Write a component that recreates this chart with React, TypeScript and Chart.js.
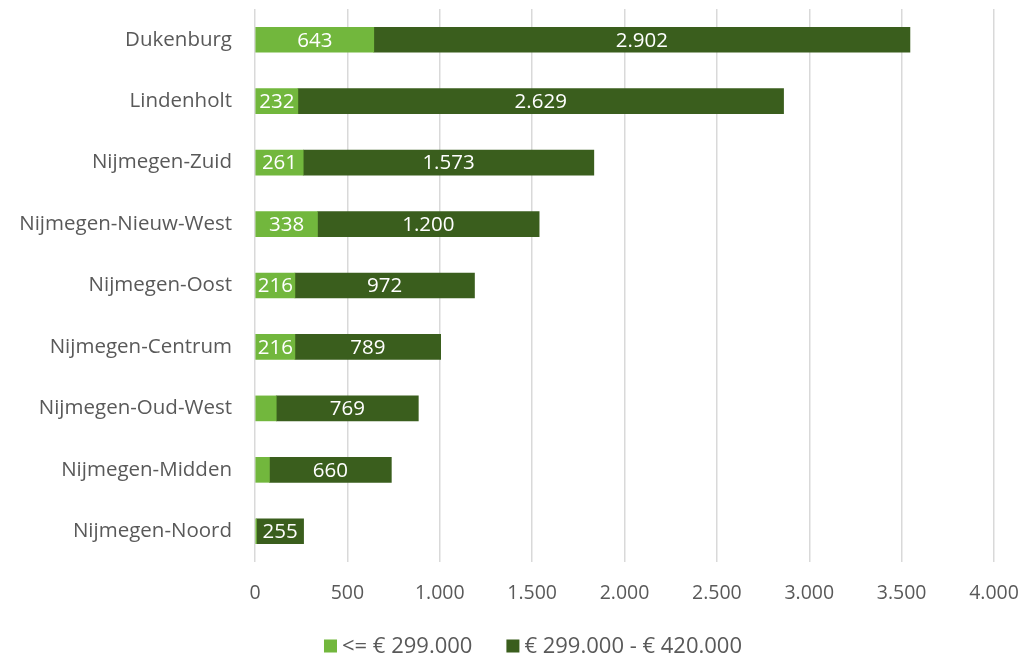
import React, { useEffect, useRef } from "react";
import { Chart, registerables } from "chart.js";

Chart.register(...registerables);

const categories = [
  "Dukenburg",
  "Lindenholt",
  "Nijmegen-Zuid",
  "Nijmegen-Nieuw-West",
  "Nijmegen-Oost",
  "Nijmegen-Centrum",
  "Nijmegen-Oud-West",
  "Nijmegen-Midden",
  "Nijmegen-Noord",
];
const lowValues = [643, 232, 261, 338, 216, 216, 115, 78, 8];
const midValues = [2902, 2629, 1573, 1200, 972, 789, 769, 660, 255];
const seriesNames = ["<= € 299.000", "€ 299.000 - € 420.000"];
const xTicks = [0, 500, 1000, 1500, 2000, 2500, 3000, 3500, 4000];
const shownLowLabels = [true, true, true, true, true, true, false, false, false];

const FONT = "'Open Sans', sans-serif";
const fmt = (v: number) => String(v).replace(/\B(?=(\d{3})+(?!\d))/g, ".");

const labelPlugin = {
  id: "barLabels",
  afterDatasetsDraw(chart: any) {
    const ctx = chart.ctx;
    ctx.save();
    ctx.fillStyle = "#ffffff";
    ctx.font = `20.5px ${FONT}`;
    ctx.textAlign = "center";
    ctx.textBaseline = "middle";
    chart.data.datasets.forEach((ds: any, di: number) => {
      const meta = chart.getDatasetMeta(di);
      meta.data.forEach((bar: any, i: number) => {
        if (di === 0 && !shownLowLabels[i]) return;
        const x = (bar.x + bar.base) / 2;
        ctx.fillText(fmt(ds.data[i]), x, bar.y + 1);
      });
    });
    ctx.restore();
  },
};

const legendPlugin = {
  id: "customLegend",
  afterDraw(chart: any) {
    const ctx = chart.ctx;
    ctx.save();
    ctx.font = `22px ${FONT}`;
    ctx.textBaseline = "middle";
    ctx.textAlign = "left";
    const box = 13;
    const gapBoxText = 5;
    const gapItems = 34;
    const items = chart.data.datasets.map((ds: any) => ({
      text: ds.label,
      color: ds.backgroundColor,
      w: box + gapBoxText + ctx.measureText(ds.label).width,
    }));
    const total = items.reduce((a: number, it: any) => a + it.w, 0) + gapItems * (items.length - 1);
    let x = 533 - total / 2;
    const y = 646;
    items.forEach((it: any) => {
      ctx.fillStyle = it.color;
      ctx.fillRect(x, y - box / 2, box, box);
      ctx.fillStyle = "#595959";
      ctx.fillText(it.text, x + box + gapBoxText, y + 1);
      x += it.w + gapItems;
    });
    ctx.restore();
  },
};

export default function App() {
  const ref = useRef<HTMLCanvasElement>(null);
  useEffect(() => {
    const chart = new Chart(ref.current!, {
      type: "bar",
      data: {
        labels: categories,
        datasets: [
          {
            label: seriesNames[0],
            data: lowValues,
            backgroundColor: "#72B73D",
            borderColor: "#72B73D",
            barThickness: 25,
          },
          {
            label: seriesNames[1],
            data: midValues,
            backgroundColor: "#3A5E1D",
            borderColor: "#3A5E1D",
            barThickness: 25,
          },
        ],
      },
      options: {
        indexAxis: "y",
        animation: false,
        responsive: true,
        maintainAspectRatio: false,
        layout: { padding: { left: 0, right: 33, top: 9, bottom: 48 } },
        scales: {
          x: {
            stacked: true,
            min: 0,
            max: 4000,
            afterBuildTicks: (s: any) => {
              s.ticks = xTicks.map((v) => ({ value: v }));
            },
            afterFit: (s: any) => {
              s.height = 47;
              s.paddingLeft = 0;
              s.paddingRight = 0;
            },
            ticks: {
              color: "#595959",
              font: { family: FONT, size: 19.5 },
              padding: 20,
              maxRotation: 0,
              callback: (v: any) => fmt(Number(v)),
            },
            grid: { color: "#D9D9D9", lineWidth: 1.5, drawTicks: false },
            border: { display: false },
          },
          y: {
            stacked: true,
            afterFit: (s: any) => {
              s.width = 255;
              s.paddingTop = 0;
              s.paddingBottom = 0;
            },
            ticks: {
              color: "#595959",
              font: { family: FONT, size: 20.5 },
              padding: 23,
            },
            grid: { display: false, drawTicks: false },
            border: { display: false },
          },
        },
        plugins: {
          legend: { display: false },
          tooltip: { enabled: false },
        },
      },
      plugins: [labelPlugin, legendPlugin],
    });
    return () => chart.destroy();
  }, []);
  return (
    <div style={{ position: "fixed", left: 0, top: 0, width: 1027, height: 657, background: "#fff" }}>
      <canvas ref={ref} />
    </div>
  );
}
